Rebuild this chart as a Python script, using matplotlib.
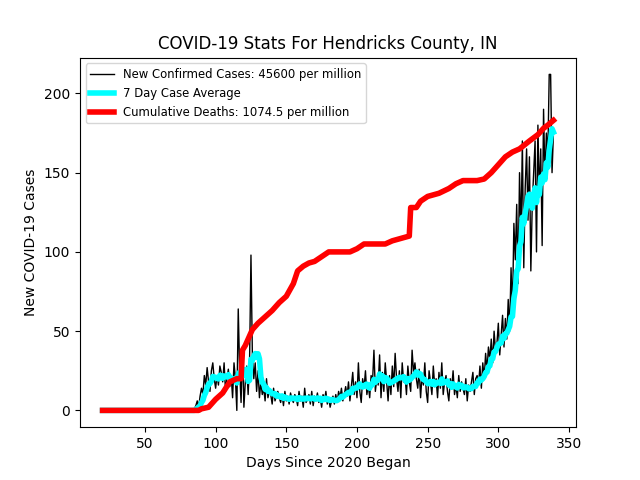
import numpy as np
import pandas as pd
import matplotlib
matplotlib.use("Agg")
import matplotlib.pyplot as plt

# daily new cases, day 20..339
zeros = [0] * 65  # days 20-84
daily = [
    1, 3, 6, 2, 9, 14, 10, 22, 16, 27,
    18, 12, 25, 30, 20, 14, 22, 16, 28, 24,
    18, 30, 12, 20, 26, 15, 22, 8, 30, 20,
    0, 64, 25, 5, 40, 2, 18, 28, 10, 30,
    98, 35, 20, 30, 12, 25, 8, 18, 10, 14,
    6, 20, 8, 12, 10, 4, 14, 6, 9, 12,
    8, 5, 10, 3, 12, 6, 9, 4, 11, 7,
    5, 10, 8, 3, 12, 6, 9, 2, 14, 5,
    7, 10, 4, 12, 3, 9, 6, 11, 5, 8,
    2, 10, 6, 12, 4, 8, 2, 6, 9, 4,
    10, 5, 12, 8, 14, 6, 10, 15, 9, 18,
    6, 15, 24, 10, 18, 8, 30, 12, 5, 20,
    14, 25, 10, 16, 8, 22, 18, 38, 12, 20,
    16, 35, 8, 24, 12, 30, 18, 6, 22, 10,
    28, 15, 36, 20, 12, 25, 8, 30, 18, 22,
    10, 28, 18, 12, 38, 24, 30, 20, 14, 26,
    8, 22, 16, 30, 12, 5, 25, 18, 10, 28,
    15, 20, 8, 24, 14, 30, 10, 18, 22, 12,
    6, 20, 14, 25, 10, 16, 8, 22, 12, 18,
    14, 10, 20, 6, 16, 12, 18, 24, 10, 20,
    22, 16, 28, 14, 30, 20, 36, 25, 40, 32,
    45, 30, 50, 38, 42, 55, 35, 48, 60, 40,
    58, 45, 70, 50, 90, 62, 118, 95, 130, 80,
    150, 110, 170, 90, 140, 165, 120, 160, 88, 130,
    150, 170, 100, 180, 135, 165, 104, 190, 145, 175,
    160, 212, 212, 150, 175,
]
cases = zeros + daily
days = list(range(20, 20 + len(cases)))

# cumulative deaths (scaled), knots
death_days = [20, 88, 90, 95, 100, 105, 110, 115, 118, 119, 121, 123, 126, 130, 135,
              140, 145, 150, 155, 158, 162, 166, 170, 175, 180, 195, 200, 205, 220,
              225, 237, 238, 242, 245, 250, 258, 265, 270, 275, 285, 290, 295, 300,
              305, 310, 315, 322, 328, 332, 335, 339]
deaths = [0, 0, 1, 2, 7, 11, 18, 20, 20, 38, 41, 45, 51, 55, 59,
          63, 68, 72, 80, 88, 91, 93, 94, 97, 100, 100, 102, 105, 105,
          107, 110, 128, 128, 132, 135, 137, 140, 143, 145, 145, 146, 150, 155,
          160, 163, 165, 170, 174, 178, 180, 183]

avg = pd.Series(cases).rolling(7, min_periods=1).mean()
avg[:66] = np.nan
avg[:66] = 0

plt.figure(figsize=(6.4, 4.8))
plt.plot(days, cases, color='black', linewidth=1, label='New Confirmed Cases: 45600 per million')
plt.plot(days, avg, color='cyan', linewidth=4, label='7 Day Case Average')
plt.plot(death_days, deaths, color='red', linewidth=4, label='Cumulative Deaths: 1074.5 per million')
plt.title('COVID-19 Stats For Hendricks County, IN')
plt.xlabel('Days Since 2020 Began')
plt.ylabel('New COVID-19 Cases')
plt.legend(loc='upper left', fontsize='small')
plt.savefig('out.png', dpi=100)
